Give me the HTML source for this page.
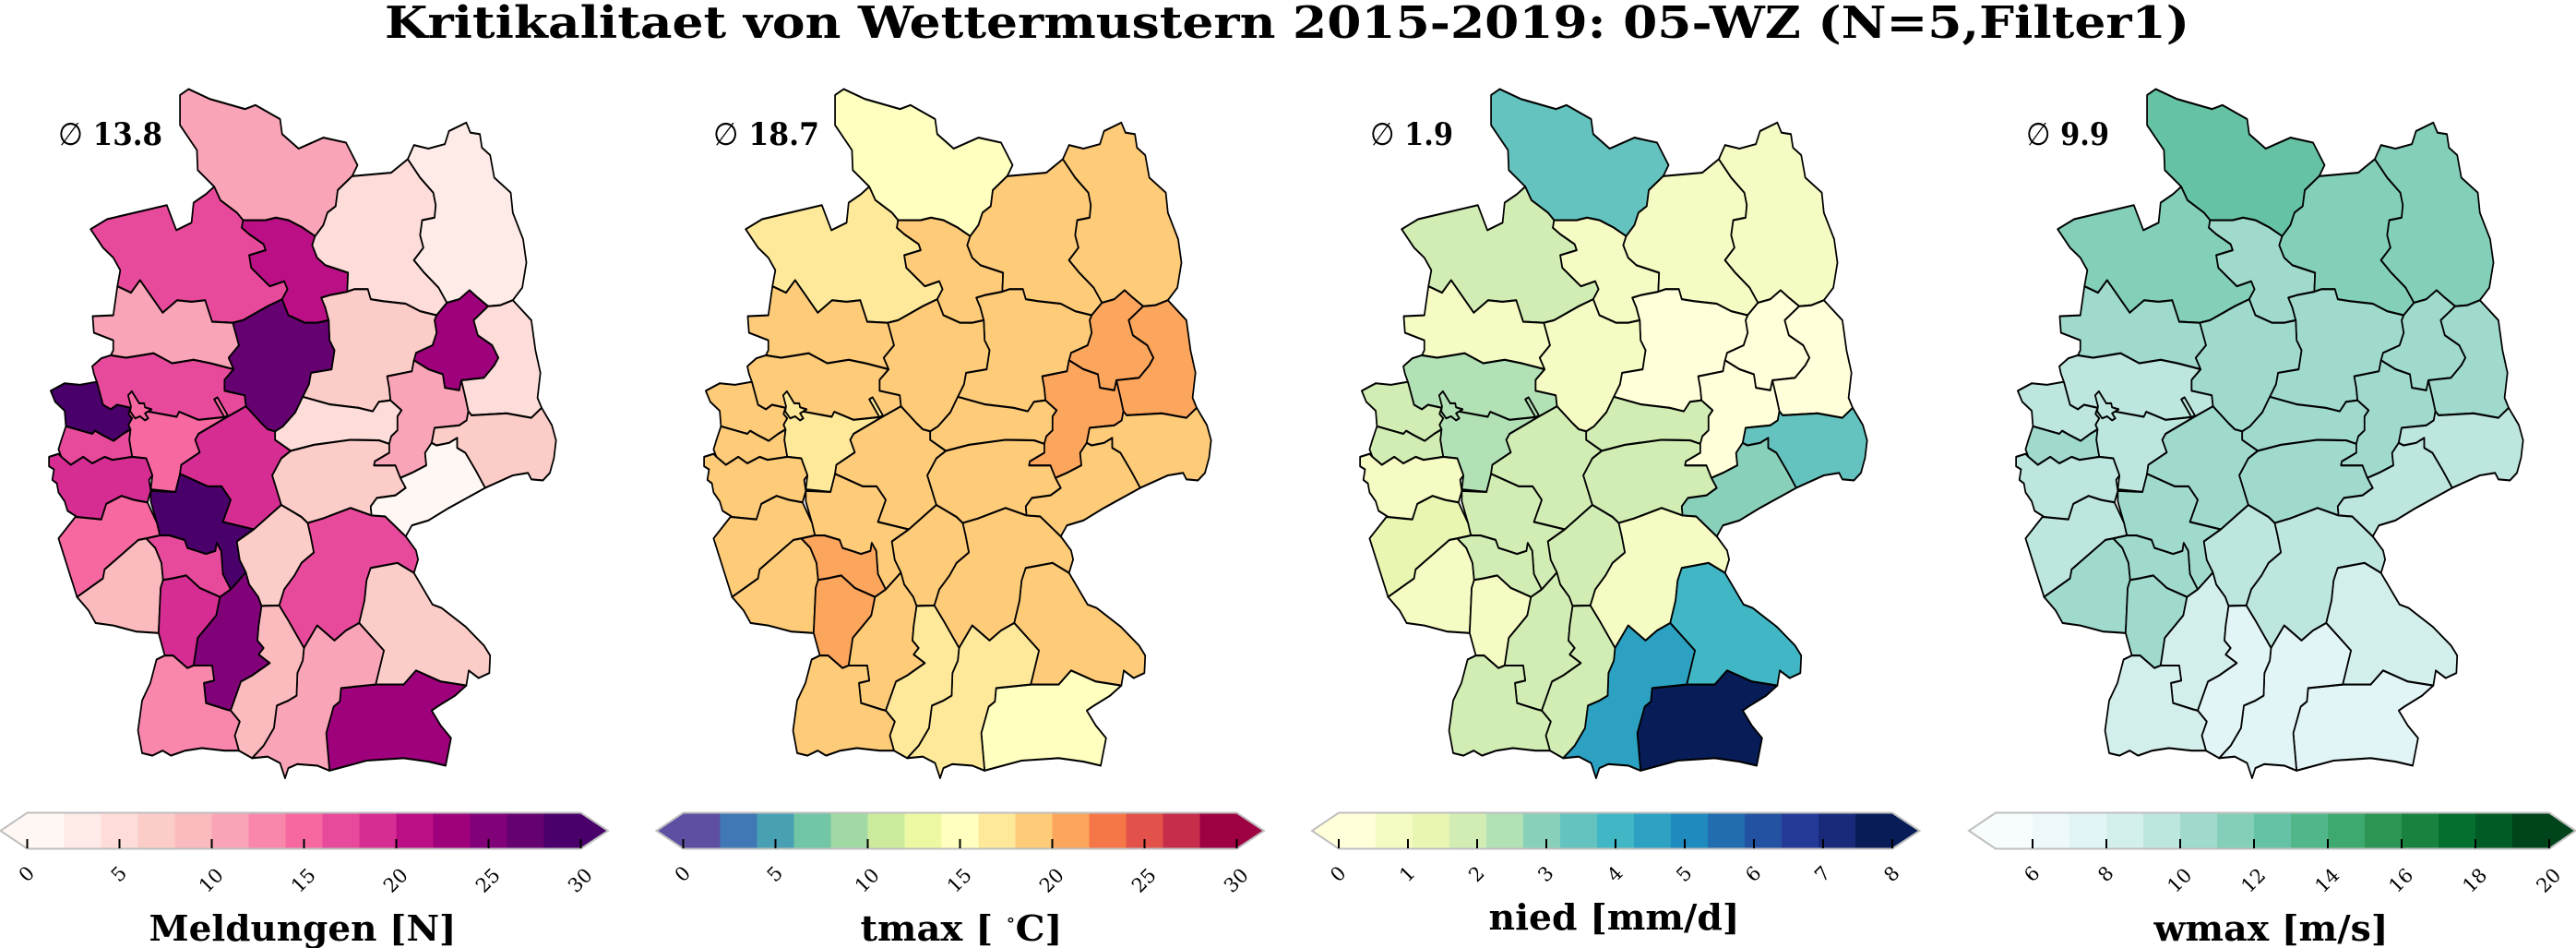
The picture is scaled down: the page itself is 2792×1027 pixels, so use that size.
<!DOCTYPE html>
<html><head><meta charset="utf-8"><style>html,body{margin:0;padding:0;background:#fff;overflow:hidden}svg{display:block}text{font-family:"DejaVu Serif","Liberation Serif",serif}</style></head>
<body>
<svg width="2792" height="1027" viewBox="0 0 2792 1027" xmlns="http://www.w3.org/2000/svg" xmlns:xlink="http://www.w3.org/1999/xlink">
<rect width="2792" height="1027" fill="#fff"/>
<defs>
<path id="r1" d="M437,190 L458,178 510,198 595,218 620,210 680,238 685,268 725,297 785,275 840,285 868,330 855,352 820,380 815,412 795,425 785,450 765,472 735,455 700,440 670,435 645,440 590,440 575,425 535,400 520,373 480,340 478,300 437,250 Z"/>
<path id="r2" d="M220,458 L260,438 405,410 428,460 465,445 470,405 500,388 520,373 535,400 575,425 590,440 587,455 605,468 640,488 645,500 605,510 610,535 655,572 690,562 698,578 685,598 650,612 590,640 565,645 515,643 498,600 465,603 430,600 395,625 340,560 318,585 285,572 292,540 275,515 250,495 Z"/>
<path id="r3" d="M590,440 L645,440 670,435 700,440 735,455 765,472 758,490 770,515 790,530 845,545 843,583 800,590 780,595 790,615 798,640 770,645 740,645 700,630 685,598 698,578 690,562 655,572 610,535 605,510 645,500 640,488 605,468 587,455 Z"/>
<path id="r4" d="M765,472 L785,450 795,425 815,412 820,380 855,352 950,345 990,318 1020,355 1052,385 1058,410 1055,435 1025,440 1020,470 1028,495 1005,520 1030,545 1065,575 1085,605 1060,630 1020,622 985,607 930,602 900,598 893,578 860,578 843,583 845,545 790,530 770,515 758,490 Z"/>
<path id="r5" d="M990,318 L1005,290 1040,297 1080,288 1090,262 1132,245 1142,265 1165,268 1170,295 1190,310 1200,355 1240,385 1245,425 1270,478 1278,525 1268,575 1245,600 1215,610 1185,612 1160,595 1140,580 1115,598 1085,605 1065,575 1030,545 1005,520 1028,495 1020,470 1025,440 1055,435 1058,410 1052,385 1020,355 Z"/>
<path id="r6" d="M1085,605 L1115,598 1140,580 1160,595 1185,612 1150,640 1160,670 1195,690 1210,715 1200,730 1175,755 1120,760 1115,780 1080,775 1075,748 1040,738 1005,720 1010,705 1050,690 1060,665 1055,640 1060,630 Z"/>
<path id="r7" d="M1185,612 L1215,610 1245,600 1290,640 1300,700 1312,745 1305,795 1315,815 1290,835 1230,826 1145,830 1137,822 1130,795 1120,760 1175,755 1200,730 1210,715 1195,690 1160,670 1150,640 Z"/>
<path id="r8" d="M843,583 L860,578 893,578 900,598 930,602 985,607 1020,622 1060,630 1055,640 1060,665 1050,690 1010,705 1005,720 1000,742 940,752 945,775 948,800 920,803 905,822 870,815 800,808 735,793 750,768 755,745 805,738 812,700 800,680 798,640 790,615 780,595 800,590 Z"/>
<path id="r9" d="M565,645 L590,640 650,612 685,598 700,630 740,645 770,645 798,640 800,680 812,700 805,738 755,745 750,768 735,793 717,824 687,852 668,862 650,858 635,846 597,812 594,790 545,781 545,759 567,738 555,715 580,690 Z"/>
<path id="r10" d="M225,632 L275,630 285,572 318,585 340,560 395,625 430,600 465,603 498,600 515,643 565,645 580,690 555,715 567,738 511,726 470,719 418,726 373,706 343,710 306,715 269,710 275,700 275,680 228,665 Z"/>
<path id="r11" d="M224,732 L246,716 269,710 306,715 343,710 373,706 418,726 470,719 511,726 567,738 545,759 545,781 594,790 597,812 552,833 482,839 435,823 429,833 357,822 317,815 284,809 269,818 250,809 235,763 228,747 Z"/>
<path id="r12" d="M123,781 L157,766 194,769 235,763 250,809 269,818 284,809 317,815 312,827 321,836 312,849 317,858 299,867 276,881 250,870 231,861 224,867 160,852 157,821 134,803 Z"/>
<path id="r13" d="M160,852 L224,867 231,861 250,870 276,881 299,867 317,858 314,879 321,913 273,919 254,913 224,926 202,913 172,929 149,913 142,898 149,879 Z"/>
<path id="r14" d="M317,858 L312,849 321,836 312,827 317,815 357,822 429,833 435,823 482,839 552,833 482,867 474,879 485,904 440,929 437,947 426,983 366,978 370,950 355,916 321,913 314,879 Z"/>
<path id="r15" d="M552,833 L597,812 635,846 650,858 668,862 668,879 706,901 683,916 661,950 683,1009 616,1058 541,1043 560,999 538,972 504,972 437,947 440,929 485,904 474,879 482,867 Z"/>
<path id="r16" d="M119,913 L142,907 149,913 172,929 202,913 224,926 254,913 273,919 321,913 355,916 370,950 362,959 366,981 358,1004 325,999 295,991 258,1007 246,1038 187,1033 164,1021 157,1002 142,984 138,966 127,959 131,938 119,932 Z"/>
<path id="r17" d="M366,981 L426,983 437,947 504,972 538,972 560,999 541,1043 616,1058 575,1082 582,1119 597,1144 560,1178 541,1147 537,1101 526,1085 523,1101 500,1107 478,1101 455,1095 448,1079 411,1070 388,1070 381,1045 366,1002 Z"/>
<path id="r18" d="M142,1076 L183,1033 246,1038 258,1007 295,991 325,999 358,1004 381,1045 388,1070 355,1076 336,1079 254,1138 250,1156 187,1193 Z"/>
<path id="r19" d="M187,1193 L250,1156 254,1138 336,1079 355,1076 377,1095 392,1125 396,1159 390,1175 385,1265 330,1262 275,1250 232,1245 215,1220 Z"/>
<path id="r20" d="M355,1076 L388,1070 411,1070 448,1079 455,1095 478,1101 500,1107 523,1101 526,1085 537,1101 541,1147 560,1178 534,1193 485,1175 452,1150 418,1156 396,1159 392,1125 377,1095 Z"/>
<path id="r21" d="M396,1159 L418,1156 452,1150 485,1175 534,1193 525,1230 480,1275 470,1330 455,1335 420,1310 400,1310 385,1265 390,1175 Z"/>
<path id="r22" d="M534,1193 L560,1178 597,1144 605,1168 627,1193 635,1211 628,1250 625,1280 640,1295 628,1308 655,1325 612,1350 585,1362 560,1420 550,1418 500,1405 495,1365 520,1360 515,1330 470,1330 480,1275 525,1230 Z"/>
<path id="r23" d="M616,1058 L683,1009 732,1033 747,1045 754,1070 762,1104 732,1125 715,1150 690,1178 678,1210 635,1211 627,1193 605,1168 597,1144 582,1119 575,1082 Z"/>
<path id="r24" d="M747,1045 L784,1036 851,1015 902,1030 935,1032 985,1072 1010,1100 1015,1118 1005,1145 965,1125 900,1135 890,1160 885,1200 872,1245 840,1260 812,1280 770,1250 738,1295 700,1240 678,1210 690,1178 715,1150 732,1125 762,1104 754,1070 Z"/>
<path id="r25" d="M668,862 L687,852 717,824 735,793 800,808 870,815 905,822 920,803 948,800 975,820 965,832 965,860 950,872 945,887 920,880 851,879 762,889 706,901 668,879 Z"/>
<path id="r26" d="M706,901 L762,889 851,879 920,880 945,887 945,905 910,922 908,930 960,930 972,955 985,975 960,990 915,995 900,1012 902,1030 851,1015 784,1036 747,1045 732,1033 683,1009 661,950 683,916 Z"/>
<path id="r27" d="M940,752 L1000,742 1005,720 1040,738 1075,748 1080,775 1115,780 1120,760 1130,795 1137,822 1133,840 1115,850 1055,855 1048,885 1032,905 1035,930 1000,945 972,955 960,930 908,930 910,922 945,905 945,887 950,872 965,860 965,832 975,820 948,800 945,775 Z"/>
<path id="r28" d="M902,1030 L900,1012 915,995 960,990 985,975 972,955 1000,945 1035,930 1032,905 1048,885 1060,890 1090,885 1110,875 1110,895 1130,905 1155,940 1178,975 1090,1015 1040,1040 1000,1050 985,1072 935,1032 Z"/>
<path id="r29" d="M1048,885 L1055,855 1115,850 1133,840 1137,822 1145,830 1230,826 1290,835 1315,815 1340,850 1350,880 1345,915 1335,945 1318,960 1290,958 1282,945 1245,950 1178,975 1155,940 1130,905 1110,895 1110,875 1090,885 1060,890 Z"/>
<path id="r30" d="M1005,1145 L1050,1208 1072,1215 1130,1252 1175,1290 1190,1310 1188,1345 1162,1355 1138,1340 1132,1370 1070,1362 1010,1340 980,1368 912,1368 932,1300 872,1245 885,1200 890,1160 900,1135 965,1125 Z"/>
<path id="r31" d="M912,1368 L980,1368 1010,1340 1070,1362 1132,1370 1105,1390 1062,1412 1048,1420 1070,1450 1095,1475 1082,1530 1040,1522 980,1515 890,1520 800,1540 792,1465 810,1412 825,1402 828,1375 Z"/>
<path id="r32" d="M738,1295 L770,1250 812,1280 840,1260 872,1245 932,1300 912,1368 828,1375 825,1402 810,1412 792,1465 800,1540 770,1530 722,1527 700,1535 692,1555 680,1525 650,1512 612,1515 640,1490 665,1455 672,1410 700,1400 720,1390 722,1345 735,1320 Z"/>
<path id="r33" d="M678,1210 L700,1240 738,1295 735,1320 722,1345 720,1390 700,1400 672,1410 665,1455 640,1490 612,1515 580,1500 570,1470 582,1442 560,1420 585,1362 612,1350 655,1325 628,1308 640,1295 625,1280 628,1250 635,1211 Z"/>
<path id="r34" d="M400,1310 L420,1310 455,1335 470,1330 515,1330 520,1360 495,1365 500,1405 550,1418 560,1420 582,1442 570,1470 580,1500 545,1500 490,1495 450,1500 415,1510 395,1500 370,1510 345,1505 335,1460 345,1400 365,1365 380,1318 Z"/>
<path id="rs" d="M316,822 L318,812 311,790 320,782 338,806 350,806 352,814 368,818 352,826 360,836 352,840 340,832 328,836 Z"/>
<path id="rc" d="M520,798 L528,794 553,830 545,834 Z"/>
</defs>

<!-- Map 1: Meldungen (RdPu) -->
<g transform="translate(0,0) scale(0.446429,0.542105)" stroke="#000" stroke-width="3.9" stroke-linejoin="round">
<use href="#r1" fill="#faa4b7"/><use href="#r2" fill="#e84a9b"/><use href="#r3" fill="#bb1085"/><use href="#r4" fill="#fddcd9"/><use href="#r5" fill="#feeae6"/><use href="#r6" fill="#9f017c"/><use href="#r7" fill="#fddcd9"/><use href="#r8" fill="#fccdc8"/><use href="#r9" fill="#650171"/><use href="#r10" fill="#faa4b7"/><use href="#r11" fill="#e84a9b"/><use href="#r12" fill="#49006a"/><use href="#r13" fill="#e84a9b"/><use href="#r14" fill="#f768a1"/><use href="#r15" fill="#d62d93"/><use href="#r16" fill="#d62d93"/><use href="#r17" fill="#49006a"/><use href="#r18" fill="#f768a1"/><use href="#r19" fill="#fbbabd"/><use href="#r20" fill="#e84a9b"/><use href="#r21" fill="#d62d93"/><use href="#r22" fill="#810178"/><use href="#r23" fill="#fccdc8"/><use href="#r24" fill="#e84a9b"/><use href="#r25" fill="#fddcd9"/><use href="#r26" fill="#fccdc8"/><use href="#r27" fill="#faa4b7"/><use href="#r28" fill="#fff7f3"/><use href="#r29" fill="#fccdc8"/><use href="#r30" fill="#fccdc8"/><use href="#r31" fill="#9f017c"/><use href="#r32" fill="#faa4b7"/><use href="#r33" fill="#fbbabd"/><use href="#r34" fill="#f987ac"/><use href="#rs" fill="#f768a1"/><use href="#rc" fill="#f768a1"/>
</g>

<!-- Map 2: tmax (Spectral_r) -->
<g transform="translate(710,0) scale(0.446429,0.542105)" stroke="#000" stroke-width="3.9" stroke-linejoin="round">
<use href="#r1" fill="#ffffbf"/><use href="#r2" fill="#fee99a"/><use href="#r3" fill="#fecb79"/><use href="#r4" fill="#fecb79"/><use href="#r5" fill="#fecb79"/><use href="#r6" fill="#fca55d"/><use href="#r7" fill="#fca55d"/><use href="#r8" fill="#fecb79"/><use href="#r9" fill="#fecb79"/><use href="#r10" fill="#fecb79"/><use href="#r11" fill="#fecb79"/><use href="#r12" fill="#fecb79"/><use href="#r13" fill="#fecb79"/><use href="#r14" fill="#fee99a"/><use href="#r15" fill="#fecb79"/><use href="#r16" fill="#fecb79"/><use href="#r17" fill="#fecb79"/><use href="#r18" fill="#fecb79"/><use href="#r19" fill="#fecb79"/><use href="#r20" fill="#fca55d"/><use href="#r21" fill="#fca55d"/><use href="#r22" fill="#fecb79"/><use href="#r23" fill="#fecb79"/><use href="#r24" fill="#fecb79"/><use href="#r25" fill="#fecb79"/><use href="#r26" fill="#fecb79"/><use href="#r27" fill="#fca55d"/><use href="#r28" fill="#fecb79"/><use href="#r29" fill="#fecb79"/><use href="#r30" fill="#fecb79"/><use href="#r31" fill="#ffffbf"/><use href="#r32" fill="#fee99a"/><use href="#r33" fill="#fee99a"/><use href="#r34" fill="#fecb79"/><use href="#rs" fill="#fee99a"/><use href="#rc" fill="#fee99a"/>
</g>

<!-- Map 3: nied (YlGnBu) -->
<g transform="translate(1421,0) scale(0.446429,0.542105)" stroke="#000" stroke-width="3.9" stroke-linejoin="round">
<use href="#r1" fill="#64c3bf"/><use href="#r2" fill="#d2edb4"/><use href="#r3" fill="#f5fbc2"/><use href="#r4" fill="#f5fbc2"/><use href="#r5" fill="#f5fbc2"/><use href="#r6" fill="#ffffd9"/><use href="#r7" fill="#ffffd9"/><use href="#r8" fill="#ffffd9"/><use href="#r9" fill="#f5fbc2"/><use href="#r10" fill="#f5fbc2"/><use href="#r11" fill="#b2e1b6"/><use href="#r12" fill="#d2edb4"/><use href="#r13" fill="#d2edb4"/><use href="#r14" fill="#b2e1b6"/><use href="#r15" fill="#d2edb4"/><use href="#r16" fill="#f5fbc2"/><use href="#r17" fill="#d2edb4"/><use href="#r18" fill="#e8f6b1"/><use href="#r19" fill="#f5fbc2"/><use href="#r20" fill="#d2edb4"/><use href="#r21" fill="#f5fbc2"/><use href="#r22" fill="#d2edb4"/><use href="#r23" fill="#d2edb4"/><use href="#r24" fill="#f5fbc2"/><use href="#r25" fill="#d2edb4"/><use href="#r26" fill="#d2edb4"/><use href="#r27" fill="#ffffd9"/><use href="#r28" fill="#89d0ba"/><use href="#r29" fill="#64c3bf"/><use href="#r30" fill="#41b6c4"/><use href="#r31" fill="#081d58"/><use href="#r32" fill="#2ca1c2"/><use href="#r33" fill="#d2edb4"/><use href="#r34" fill="#d2edb4"/><use href="#rs" fill="#b2e1b6"/><use href="#rc" fill="#b2e1b6"/>
</g>

<!-- Map 4: wmax (BuGn) -->
<g transform="translate(2132,0) scale(0.446429,0.542105)" stroke="#000" stroke-width="3.9" stroke-linejoin="round">
<use href="#r1" fill="#66c2a4"/><use href="#r2" fill="#83cfb9"/><use href="#r3" fill="#a0dacd"/><use href="#r4" fill="#83cfb9"/><use href="#r5" fill="#83cfb9"/><use href="#r6" fill="#a0dacd"/><use href="#r7" fill="#a0dacd"/><use href="#r8" fill="#a0dacd"/><use href="#r9" fill="#a0dacd"/><use href="#r10" fill="#a0dacd"/><use href="#r11" fill="#bde6de"/><use href="#r12" fill="#bde6de"/><use href="#r13" fill="#a0dacd"/><use href="#r14" fill="#bde6de"/><use href="#r15" fill="#a0dacd"/><use href="#r16" fill="#bde6de"/><use href="#r17" fill="#a0dacd"/><use href="#r18" fill="#bde6de"/><use href="#r19" fill="#a0dacd"/><use href="#r20" fill="#a0dacd"/><use href="#r21" fill="#a0dacd"/><use href="#r22" fill="#d3efeb"/><use href="#r23" fill="#bde6de"/><use href="#r24" fill="#bde6de"/><use href="#r25" fill="#a0dacd"/><use href="#r26" fill="#a0dacd"/><use href="#r27" fill="#a0dacd"/><use href="#r28" fill="#bde6de"/><use href="#r29" fill="#bde6de"/><use href="#r30" fill="#d3efeb"/><use href="#r31" fill="#e1f4f6"/><use href="#r32" fill="#e1f4f6"/><use href="#r33" fill="#e1f4f6"/><use href="#r34" fill="#d3efeb"/><use href="#rs" fill="#bde6de"/><use href="#rc" fill="#bde6de"/>
</g>

<!-- Title -->
<text x="1395" y="41" font-size="48" font-weight="bold" text-anchor="middle" textLength="1956" lengthAdjust="spacingAndGlyphs" fill="#000">Kritikalitaet von Wettermustern 2015-2019: 05-WZ (N=5,Filter1)</text>

<!-- Mean labels -->
<text x="63" y="157" font-size="34" font-weight="bold" textLength="113" lengthAdjust="spacingAndGlyphs"><tspan font-weight="normal">∅</tspan> 13.8</text>
<text x="773" y="157" font-size="34" font-weight="bold" textLength="115" lengthAdjust="spacingAndGlyphs"><tspan font-weight="normal">∅</tspan> 18.7</text>
<text x="1485" y="157" font-size="34" font-weight="bold" textLength="90" lengthAdjust="spacingAndGlyphs"><tspan font-weight="normal">∅</tspan> 1.9</text>
<text x="2196" y="157" font-size="34" font-weight="bold" textLength="90" lengthAdjust="spacingAndGlyphs"><tspan font-weight="normal">∅</tspan> 9.9</text>

<!-- Colorbar 1 -->
<g transform="translate(0,0)">
<polygon points="0.5,900 29.5,880.5 29.5,919.5" fill="#fff7f3"/>
<polygon points="629.5,880.5 659,900 629.5,919.5" fill="#49006a"/>
<rect x="29.5" y="880.5" width="40.5" height="39" fill="#fff7f3"/><rect x="69.5" y="880.5" width="40.5" height="39" fill="#feeae6"/><rect x="109.5" y="880.5" width="40.5" height="39" fill="#fddcd9"/><rect x="149.5" y="880.5" width="40.5" height="39" fill="#fccdc8"/><rect x="189.5" y="880.5" width="40.5" height="39" fill="#fbbabd"/><rect x="229.5" y="880.5" width="40.5" height="39" fill="#faa4b7"/><rect x="269.5" y="880.5" width="40.5" height="39" fill="#f987ac"/><rect x="309.5" y="880.5" width="40.5" height="39" fill="#f768a1"/><rect x="349.5" y="880.5" width="40.5" height="39" fill="#e84a9b"/><rect x="389.5" y="880.5" width="40.5" height="39" fill="#d62d93"/><rect x="429.5" y="880.5" width="40.5" height="39" fill="#bb1085"/><rect x="469.5" y="880.5" width="40.5" height="39" fill="#9f017c"/><rect x="509.5" y="880.5" width="40.5" height="39" fill="#810178"/><rect x="549.5" y="880.5" width="40.5" height="39" fill="#650171"/><rect x="589.5" y="880.5" width="40" height="39" fill="#49006a"/>
<polygon points="0.5,900 29.5,880.5 629.5,880.5 659,900 629.5,919.5 29.5,919.5" fill="none" stroke="#bfbfbf" stroke-width="2"/>
<g stroke="#000" stroke-width="2"><line x1="29.5" y1="909" x2="29.5" y2="919"/><line x1="129.5" y1="909" x2="129.5" y2="919"/><line x1="229.5" y1="909" x2="229.5" y2="919"/><line x1="329.5" y1="909" x2="329.5" y2="919"/><line x1="429.5" y1="909" x2="429.5" y2="919"/><line x1="529.5" y1="909" x2="529.5" y2="919"/><line x1="629.5" y1="909" x2="629.5" y2="919"/></g>
<g font-size="21" text-anchor="middle">
<text transform="translate(28.5,946.5) rotate(-45)" dy="0.36em">0</text>
<text transform="translate(128.5,946.5) rotate(-45)" dy="0.36em">5</text>
<text transform="translate(228.5,953.5) rotate(-45)" dy="0.36em">10</text>
<text transform="translate(328.5,953.5) rotate(-45)" dy="0.36em">15</text>
<text transform="translate(428.5,953.5) rotate(-45)" dy="0.36em">20</text>
<text transform="translate(528.5,953.5) rotate(-45)" dy="0.36em">25</text>
<text transform="translate(628.5,953.5) rotate(-45)" dy="0.36em">30</text>
</g>
<text x="328" y="1019" font-size="38" font-weight="bold" text-anchor="middle" textLength="333" lengthAdjust="spacingAndGlyphs">Meldungen [N]</text>
</g>

<!-- Colorbar 2 -->
<g transform="translate(711,0)">
<polygon points="0.5,900 29.5,880.5 29.5,919.5" fill="#5e4fa2"/>
<polygon points="629.5,880.5 659,900 629.5,919.5" fill="#9e0142"/>
<rect x="29.5" y="880.5" width="40.5" height="39" fill="#5e4fa2"/><rect x="69.5" y="880.5" width="40.5" height="39" fill="#3f78b5"/><rect x="109.5" y="880.5" width="40.5" height="39" fill="#48a1b3"/><rect x="149.5" y="880.5" width="40.5" height="39" fill="#70c6a5"/><rect x="189.5" y="880.5" width="40.5" height="39" fill="#a1d9a4"/><rect x="229.5" y="880.5" width="40.5" height="39" fill="#cdeb9d"/><rect x="269.5" y="880.5" width="40.5" height="39" fill="#edf8a3"/><rect x="309.5" y="880.5" width="40.5" height="39" fill="#ffffbf"/><rect x="349.5" y="880.5" width="40.5" height="39" fill="#fee99a"/><rect x="389.5" y="880.5" width="40.5" height="39" fill="#fecb79"/><rect x="429.5" y="880.5" width="40.5" height="39" fill="#fca55d"/><rect x="469.5" y="880.5" width="40.5" height="39" fill="#f57647"/><rect x="509.5" y="880.5" width="40.5" height="39" fill="#e2524a"/><rect x="549.5" y="880.5" width="40.5" height="39" fill="#c52d4b"/><rect x="589.5" y="880.5" width="40" height="39" fill="#9e0142"/>
<polygon points="0.5,900 29.5,880.5 629.5,880.5 659,900 629.5,919.5 29.5,919.5" fill="none" stroke="#bfbfbf" stroke-width="2"/>
<g stroke="#000" stroke-width="2"><line x1="29.5" y1="909" x2="29.5" y2="919"/><line x1="129.5" y1="909" x2="129.5" y2="919"/><line x1="229.5" y1="909" x2="229.5" y2="919"/><line x1="329.5" y1="909" x2="329.5" y2="919"/><line x1="429.5" y1="909" x2="429.5" y2="919"/><line x1="529.5" y1="909" x2="529.5" y2="919"/><line x1="629.5" y1="909" x2="629.5" y2="919"/></g>
<g font-size="21" text-anchor="middle">
<text transform="translate(28.5,946.5) rotate(-45)" dy="0.36em">0</text>
<text transform="translate(128.5,946.5) rotate(-45)" dy="0.36em">5</text>
<text transform="translate(228.5,953.5) rotate(-45)" dy="0.36em">10</text>
<text transform="translate(328.5,953.5) rotate(-45)" dy="0.36em">15</text>
<text transform="translate(428.5,953.5) rotate(-45)" dy="0.36em">20</text>
<text transform="translate(528.5,953.5) rotate(-45)" dy="0.36em">25</text>
<text transform="translate(628.5,953.5) rotate(-45)" dy="0.36em">30</text>
</g>
<text x="331" y="1019" font-size="38" font-weight="bold" text-anchor="middle" textLength="219" lengthAdjust="spacingAndGlyphs">tmax [ <tspan font-size="20" font-weight="normal" dy="-16">∘</tspan><tspan dy="16">C]</tspan></text>
</g>

<!-- Colorbar 3 -->
<g transform="translate(1421.5,0)">
<polygon points="0.5,900 29.5,880.5 29.5,919.5" fill="#ffffd9"/>
<polygon points="629.5,880.5 659,900 629.5,919.5" fill="#081d58"/>
<rect x="29.5" y="880.5" width="40.5" height="39" fill="#ffffd9"/><rect x="69.5" y="880.5" width="40.5" height="39" fill="#f5fbc2"/><rect x="109.5" y="880.5" width="40.5" height="39" fill="#e8f6b1"/><rect x="149.5" y="880.5" width="40.5" height="39" fill="#d2edb4"/><rect x="189.5" y="880.5" width="40.5" height="39" fill="#b2e1b6"/><rect x="229.5" y="880.5" width="40.5" height="39" fill="#89d0ba"/><rect x="269.5" y="880.5" width="40.5" height="39" fill="#64c3bf"/><rect x="309.5" y="880.5" width="40.5" height="39" fill="#41b6c4"/><rect x="349.5" y="880.5" width="40.5" height="39" fill="#2ca1c2"/><rect x="389.5" y="880.5" width="40.5" height="39" fill="#1e8abd"/><rect x="429.5" y="880.5" width="40.5" height="39" fill="#216daf"/><rect x="469.5" y="880.5" width="40.5" height="39" fill="#2352a2"/><rect x="509.5" y="880.5" width="40.5" height="39" fill="#253a97"/><rect x="549.5" y="880.5" width="40.5" height="39" fill="#192a7a"/><rect x="589.5" y="880.5" width="40" height="39" fill="#081d58"/>
<polygon points="0.5,900 29.5,880.5 629.5,880.5 659,900 629.5,919.5 29.5,919.5" fill="none" stroke="#bfbfbf" stroke-width="2"/>
<g stroke="#000" stroke-width="2"><line x1="29.5" y1="909" x2="29.5" y2="919"/><line x1="104.5" y1="909" x2="104.5" y2="919"/><line x1="179.5" y1="909" x2="179.5" y2="919"/><line x1="254.5" y1="909" x2="254.5" y2="919"/><line x1="329.5" y1="909" x2="329.5" y2="919"/><line x1="404.5" y1="909" x2="404.5" y2="919"/><line x1="479.5" y1="909" x2="479.5" y2="919"/><line x1="554.5" y1="909" x2="554.5" y2="919"/><line x1="629.5" y1="909" x2="629.5" y2="919"/></g>
<g font-size="21" text-anchor="middle">
<text transform="translate(28.5,946.5) rotate(-45)" dy="0.36em">0</text>
<text transform="translate(103.5,946.5) rotate(-45)" dy="0.36em">1</text>
<text transform="translate(178.5,946.5) rotate(-45)" dy="0.36em">2</text>
<text transform="translate(253.5,946.5) rotate(-45)" dy="0.36em">3</text>
<text transform="translate(328.5,946.5) rotate(-45)" dy="0.36em">4</text>
<text transform="translate(403.5,946.5) rotate(-45)" dy="0.36em">5</text>
<text transform="translate(478.5,946.5) rotate(-45)" dy="0.36em">6</text>
<text transform="translate(553.5,946.5) rotate(-45)" dy="0.36em">7</text>
<text transform="translate(628.5,946.5) rotate(-45)" dy="0.36em">8</text>
</g>
<text x="328" y="1007" font-size="38" font-weight="bold" text-anchor="middle" textLength="272" lengthAdjust="spacingAndGlyphs">nied [mm/d]</text>
</g>

<!-- Colorbar 4 -->
<g transform="translate(2133.5,0)">
<polygon points="0.5,900 29.5,880.5 29.5,919.5" fill="#f7fcfd"/>
<polygon points="629.5,880.5 658,900 629.5,919.5" fill="#00441b"/>
<rect x="29.5" y="880.5" width="40.5" height="39" fill="#f7fcfd"/><rect x="69.5" y="880.5" width="40.5" height="39" fill="#edf8fb"/><rect x="109.5" y="880.5" width="40.5" height="39" fill="#e1f4f6"/><rect x="149.5" y="880.5" width="40.5" height="39" fill="#d3efeb"/><rect x="189.5" y="880.5" width="40.5" height="39" fill="#bde6de"/><rect x="229.5" y="880.5" width="40.5" height="39" fill="#a0dacd"/><rect x="269.5" y="880.5" width="40.5" height="39" fill="#83cfb9"/><rect x="309.5" y="880.5" width="40.5" height="39" fill="#66c2a4"/><rect x="349.5" y="880.5" width="40.5" height="39" fill="#51b78a"/><rect x="389.5" y="880.5" width="40.5" height="39" fill="#3da96f"/><rect x="429.5" y="880.5" width="40.5" height="39" fill="#2c9553"/><rect x="469.5" y="880.5" width="40.5" height="39" fill="#19823e"/><rect x="509.5" y="880.5" width="40.5" height="39" fill="#056f30"/><rect x="549.5" y="880.5" width="40.5" height="39" fill="#005b25"/><rect x="589.5" y="880.5" width="40" height="39" fill="#00441b"/>
<polygon points="0.5,900 29.5,880.5 629.5,880.5 658,900 629.5,919.5 29.5,919.5" fill="none" stroke="#bfbfbf" stroke-width="2"/>
<g stroke="#000" stroke-width="2"><line x1="69.5" y1="909" x2="69.5" y2="919"/><line x1="149.5" y1="909" x2="149.5" y2="919"/><line x1="229.5" y1="909" x2="229.5" y2="919"/><line x1="309.5" y1="909" x2="309.5" y2="919"/><line x1="389.5" y1="909" x2="389.5" y2="919"/><line x1="469.5" y1="909" x2="469.5" y2="919"/><line x1="549.5" y1="909" x2="549.5" y2="919"/><line x1="629.5" y1="909" x2="629.5" y2="919"/></g>
<g font-size="21" text-anchor="middle">
<text transform="translate(68.5,946.5) rotate(-45)" dy="0.36em">6</text>
<text transform="translate(148.5,946.5) rotate(-45)" dy="0.36em">8</text>
<text transform="translate(228.5,953.5) rotate(-45)" dy="0.36em">10</text>
<text transform="translate(308.5,953.5) rotate(-45)" dy="0.36em">12</text>
<text transform="translate(388.5,953.5) rotate(-45)" dy="0.36em">14</text>
<text transform="translate(468.5,953.5) rotate(-45)" dy="0.36em">16</text>
<text transform="translate(548.5,953.5) rotate(-45)" dy="0.36em">18</text>
<text transform="translate(628.5,953.5) rotate(-45)" dy="0.36em">20</text>
</g>
<text x="328" y="1019" font-size="38" font-weight="bold" text-anchor="middle" textLength="254" lengthAdjust="spacingAndGlyphs">wmax [m/s]</text>
</g>
</svg>
</body></html>
